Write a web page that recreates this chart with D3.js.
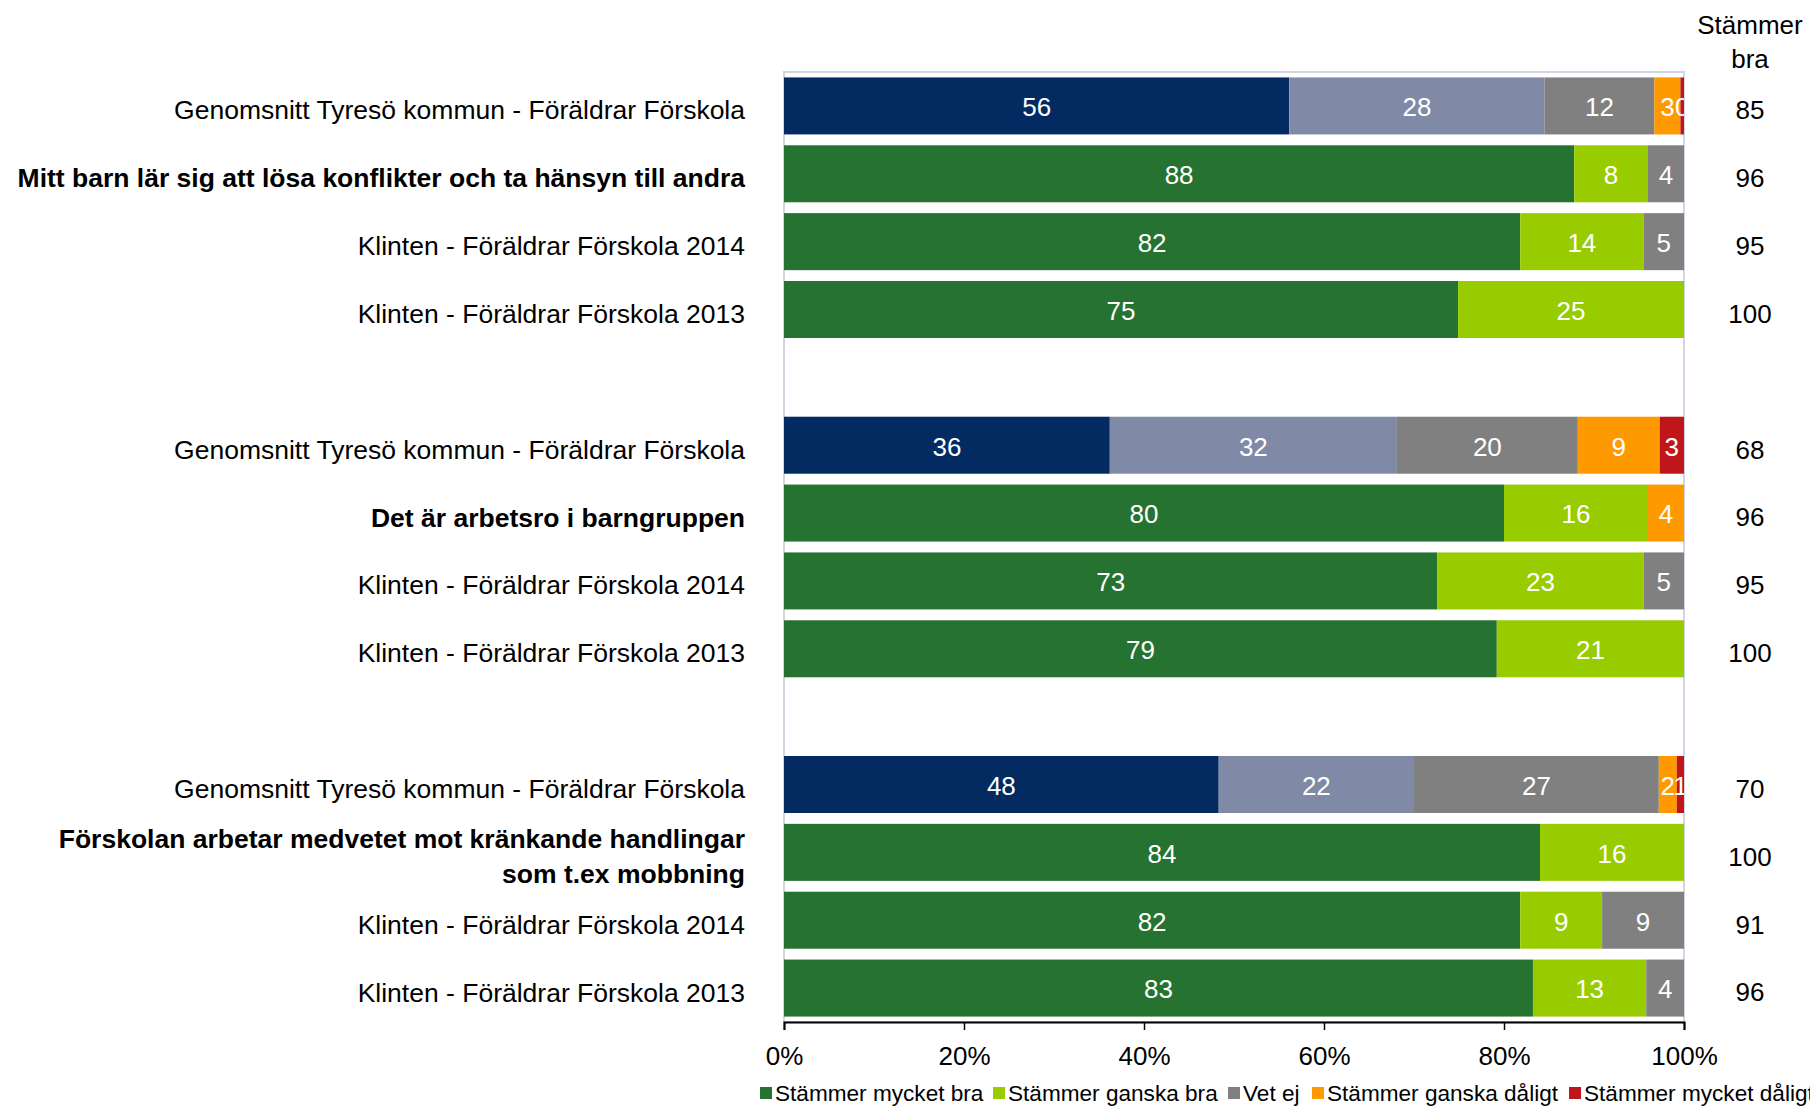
<!DOCTYPE html>
<html lang="sv">
<head>
    <meta charset="UTF-8">
    <title>Stämmer bra</title>
    <script src="https://cdn.jsdelivr.net/npm/d3@7"></script>
    <style>
        body { margin: 0; background: #fff; }
        text { font-family: "Liberation Sans", Arial, sans-serif; }
    </style>
</head>
<body>
<script type="text/javascript">
    // rows top to bottom, null = empty gap row
    var rowLabels = [
        'Genomsnitt Tyresö kommun - Föräldrar Förskola',
        'Mitt barn lär sig att lösa konflikter och ta hänsyn till andra',
        'Klinten - Föräldrar Förskola 2014',
        'Klinten - Föräldrar Förskola 2013',
        null,
        'Genomsnitt Tyresö kommun - Föräldrar Förskola',
        'Det är arbetsro i barngruppen',
        'Klinten - Föräldrar Förskola 2014',
        'Klinten - Föräldrar Förskola 2013',
        null,
        'Genomsnitt Tyresö kommun - Föräldrar Förskola',
        'Förskolan arbetar medvetet mot kränkande handlingar|som t.ex mobbning',
        'Klinten - Föräldrar Förskola 2014',
        'Klinten - Föräldrar Förskola 2013'
    ];
    var rowType = ['avg', 'q', 'y', 'y', null, 'avg', 'q', 'y', 'y', null, 'avg', 'q', 'y', 'y'];

    var series = ['Stämmer mycket bra', 'Stämmer ganska bra', 'Vet ej', 'Stämmer ganska dåligt', 'Stämmer mycket dåligt'];
    var mycketBra   = [56.2, 87.8, 81.8, 74.9, null, 36.2, 80.0, 72.6, 79.2, null, 48.3, 84.0, 81.8, 83.3];
    var ganskaBra   = [28.4, 8.2, 13.7, 25.1, null, 31.9, 16.0, 22.9, 20.8, null, 21.7, 16.0, 9.1, 12.6];
    var vetEj       = [12.2, 4.0, 4.5, 0, null, 20.1, 0, 4.5, 0, null, 27.2, 0, 9.1, 4.2];
    var ganskaDaligt = [2.9, 0, 0, 0, null, 9.1, 4.0, 0, 0, null, 2.0, 0, 0, 0];
    var mycketDaligt = [0.4, 0, 0, 0, null, 2.7, 0, 0, 0, null, 0.8, 0, 0, 0];
    var stammerBra = [85, 96, 95, 100, null, 68, 96, 95, 100, null, 70, 100, 91, 96];
    var xTicks = [0, 0.2, 0.4, 0.6, 0.8, 1];

    var colors = ['#267230', '#99CC00', '#808080', '#FF9900', '#C0161B'];
    var avgColors = ['#032B62', '#808AA6', '#808080', '#FF9900', '#C0161B'];

    var width = 1810, height = 1106;
    var plotLeft = 784, plotRight = 1684, plotTop = 72, plotBottom = 1022;

    var svg = d3.select('body').append('svg')
            .attr('width', width)
            .attr('height', height);

    var x = d3.scaleLinear().domain([0, 1]).range([plotLeft, plotRight]);
    var y = d3.scaleBand().domain(d3.range(rowLabels.length)).range([plotTop, plotBottom]).paddingInner(0.16).paddingOuter(0.08);

    // build stacked table
    var table = [];
    rowLabels.forEach(function (lab, i) {
        if (lab === null) return;
        var vals = [mycketBra[i], ganskaBra[i], vetEj[i], ganskaDaligt[i], mycketDaligt[i]];
        var total = d3.sum(vals);
        var acc = 0;
        vals.forEach(function (v, k) {
            if (v > 0) {
                table.push({row: i, k: k, v: v, x0: acc / total, x1: (acc + v) / total});
            }
            acc += v;
        });
    });

    svg.append('defs').append('clipPath').attr('id', 'plot')
            .append('rect').attr('x', plotLeft).attr('y', plotTop)
            .attr('width', plotRight - plotLeft).attr('height', plotBottom - plotTop);

    // plot border
    svg.append('rect')
            .attr('x', plotLeft).attr('y', plotTop)
            .attr('width', plotRight - plotLeft).attr('height', plotBottom - plotTop)
            .attr('fill', 'none')
            .attr('stroke', '#D3D6E2')
            .attr('stroke-width', 2);

    svg.append('g').selectAll('rect')
            .data(table)
            .enter()
            .append('rect')
            .attr('x', function (d) { return x(d.x0); })
            .attr('y', function (d) { return y(d.row); })
            .attr('width', function (d) { return x(d.x1) - x(d.x0); })
            .attr('height', y.bandwidth())
            .attr('fill', function (d) { return rowType[d.row] === 'avg' ? avgColors[d.k] : colors[d.k]; });

    svg.append('g').attr('clip-path', 'url(#plot)').selectAll('text')
            .data(table)
            .enter()
            .append('text')
            .attr('x', function (d) { return (x(d.x0) + x(d.x1)) / 2; })
            .attr('y', function (d) { return y(d.row) + y.bandwidth() / 2 + 1; })
            .attr('dy', '0.36em')
            .attr('text-anchor', 'middle')
            .attr('fill', 'white')
            .attr('font-size', '26px')
            .text(function (d) { return d3.format('.0f')(d.v); });

    // x axis
    var xAxis = d3.axisBottom(x).tickValues(xTicks).tickFormat(d3.format('.0%')).tickSize(8).tickPadding(17);
    var ax = svg.append('g')
            .attr('transform', 'translate(0,' + plotBottom + ')')
            .call(xAxis);
    ax.select('.domain').attr('stroke', '#000').attr('stroke-width', 2);
    ax.selectAll('.tick line').attr('stroke', '#000').attr('stroke-width', 1.5);
    ax.selectAll('.tick text')
            .attr('font-size', '26px')
            .attr('fill', '#000')
            .attr('font-family', '"Liberation Sans", Arial, sans-serif');

    // row labels
    var labels = svg.append('g').selectAll('text')
            .data(rowLabels.map(function (d, i) { return {label: d, i: i}; }).filter(function (d) { return d.label !== null; }))
            .enter()
            .append('text')
            .attr('text-anchor', 'end')
            .attr('font-size', '26.5px')
            .attr('font-weight', function (d) { return rowType[d.i] === 'q' ? 'bold' : 'normal'; })
            .attr('fill', '#000');
    labels.each(function (d) {
        var lines = d.label.split('|');
        var cy = y(d.i) + y.bandwidth() / 2 + 4;
        var lh = 35;
        var node = d3.select(this);
        lines.forEach(function (ln, j) {
            node.append('tspan')
                    .attr('x', 745)
                    .attr('y', cy + (j - (lines.length - 1) / 2) * lh)
                    .attr('dy', '0.36em')
                    .text(ln);
        });
    });

    // Stämmer bra column
    svg.append('text')
            .attr('x', 1750).attr('y', 25).attr('dy', '0.36em')
            .attr('text-anchor', 'middle').attr('font-size', '26px')
            .text('Stämmer');
    svg.append('text')
            .attr('x', 1750).attr('y', 59).attr('dy', '0.36em')
            .attr('text-anchor', 'middle').attr('font-size', '26px')
            .text('bra');
    svg.append('g').selectAll('text')
            .data(stammerBra.map(function (v, i) { return {v: v, i: i}; }).filter(function (d) { return d.v !== null; }))
            .enter()
            .append('text')
            .attr('x', 1750)
            .attr('y', function (d) { return y(d.i) + y.bandwidth() / 2 + 4; })
            .attr('dy', '0.36em')
            .attr('text-anchor', 'middle')
            .attr('font-size', '26px')
            .text(function (d) { return d.v; });

    // legend
    var legX = [760, 993, 1228, 1312, 1569];
    var leg = svg.append('g').selectAll('g')
            .data(series)
            .enter()
            .append('g')
            .attr('transform', function (d, i) { return 'translate(' + legX[i] + ',1093)'; });
    leg.append('rect')
            .attr('x', 0).attr('y', -6)
            .attr('width', 12).attr('height', 12)
            .attr('fill', function (d, i) { return colors[i]; });
    leg.append('text')
            .attr('x', 15)
            .attr('dy', '0.36em')
            .attr('font-size', '22.6px')
            .text(function (d) { return d; });
</script>
</body>
</html>
